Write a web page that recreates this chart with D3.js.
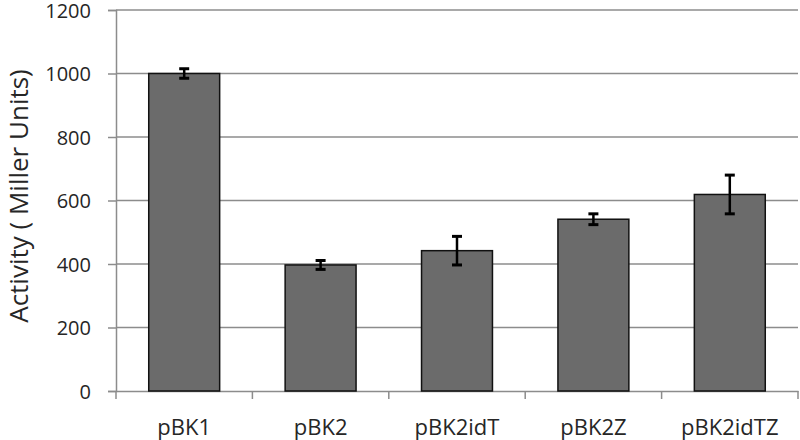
<!DOCTYPE html>
<html><head><meta charset="utf-8">
<script src="https://cdn.jsdelivr.net/npm/d3@7"></script>
<style>body{margin:0;background:#fff}svg{display:block}</style>
</head><body>
<script>
const categories = ["pBK1","pBK2","pBK2idT","pBK2Z","pBK2idTZ"];
const values = [1000, 397, 442, 541, 619];
const errors = [15, 14, 45, 17, 61];
const yTicks = [0,200,400,600,800,1000,1200];
const yTitle = "Activity ( Miller Units)";

const W=800,H=440;
const m={left:116,right:2,top:10,bottom:49};
const svg=d3.select("body").append("svg").attr("width",W).attr("height",H);
const font="'Open Sans', Calibri, sans-serif";
const x=d3.scaleBand().domain(categories).range([m.left,W-m.right]).paddingInner(0.48).paddingOuter(0.24);
const y=d3.scaleLinear().domain([0,1200]).range([H-m.bottom,m.top]);

// gridlines
svg.append("g").selectAll("line").data(yTicks.filter(d=>d>0)).join("line")
  .attr("x1",m.left).attr("x2",W-m.right).attr("y1",d=>y(d)).attr("y2",d=>y(d))
  .attr("stroke","#8c8c8c").attr("stroke-width",1.5);

// y axis
const ya=svg.append("g").attr("transform",`translate(${m.left},0)`)
  .call(d3.axisLeft(y).tickValues(yTicks).tickSize(8).tickPadding(17).tickFormat(d3.format("d")));
ya.select(".domain").attr("stroke","#8c8c8c").attr("stroke-width",1.5);
ya.selectAll(".tick line").attr("stroke","#8c8c8c").attr("stroke-width",1.5);
ya.selectAll("text").attr("font-family",font).attr("font-size",20).attr("fill","#262626").attr("dy","0.36em");

// x axis
const xa=svg.append("g").attr("transform",`translate(0,${H-m.bottom})`)
  .call(d3.axisBottom(x).tickSize(0));
xa.select(".domain").attr("stroke","#8c8c8c").attr("stroke-width",1.5);
xa.selectAll("text").attr("font-family",font).attr("font-size",22).attr("fill","#262626")
  .attr("y",44).attr("dy",0);
// category boundary ticks
const bounds=d3.range(categories.length+1).map(i=>m.left+i*(W-m.right-m.left)/categories.length);
xa.append("g").selectAll("line").data(bounds).join("line")
  .attr("x1",d=>d).attr("x2",d=>d).attr("y1",0).attr("y2",8)
  .attr("stroke","#8c8c8c").attr("stroke-width",1.5);

// bars
svg.append("g").selectAll("rect").data(categories).join("rect")
  .attr("x",d=>x(d)).attr("width",x.bandwidth())
  .attr("y",(d,i)=>y(values[i])).attr("height",(d,i)=>y(0)-y(values[i]))
  .attr("fill","#6b6b6b").attr("stroke","#111").attr("stroke-width",1.5);

// error bars
const eb=svg.append("g").attr("stroke","#000").attr("stroke-width",2.5);
categories.forEach((c,i)=>{
  const cx=x(c)+x.bandwidth()/2;
  eb.append("line").attr("x1",cx).attr("x2",cx).attr("y1",y(values[i]+errors[i])).attr("y2",y(values[i]-errors[i]));
  [values[i]+errors[i],values[i]-errors[i]].forEach(v=>{
    eb.append("line").attr("x1",cx-5).attr("x2",cx+5).attr("y1",y(v)).attr("y2",y(v)).attr("stroke-width",3);
  });
});

// y title
svg.append("text").attr("transform",`translate(28,196) rotate(-90)`)
  .attr("text-anchor","middle").attr("font-family",font).attr("font-size",26).attr("fill","#262626")
  .text(yTitle);
</script>
</body></html>
